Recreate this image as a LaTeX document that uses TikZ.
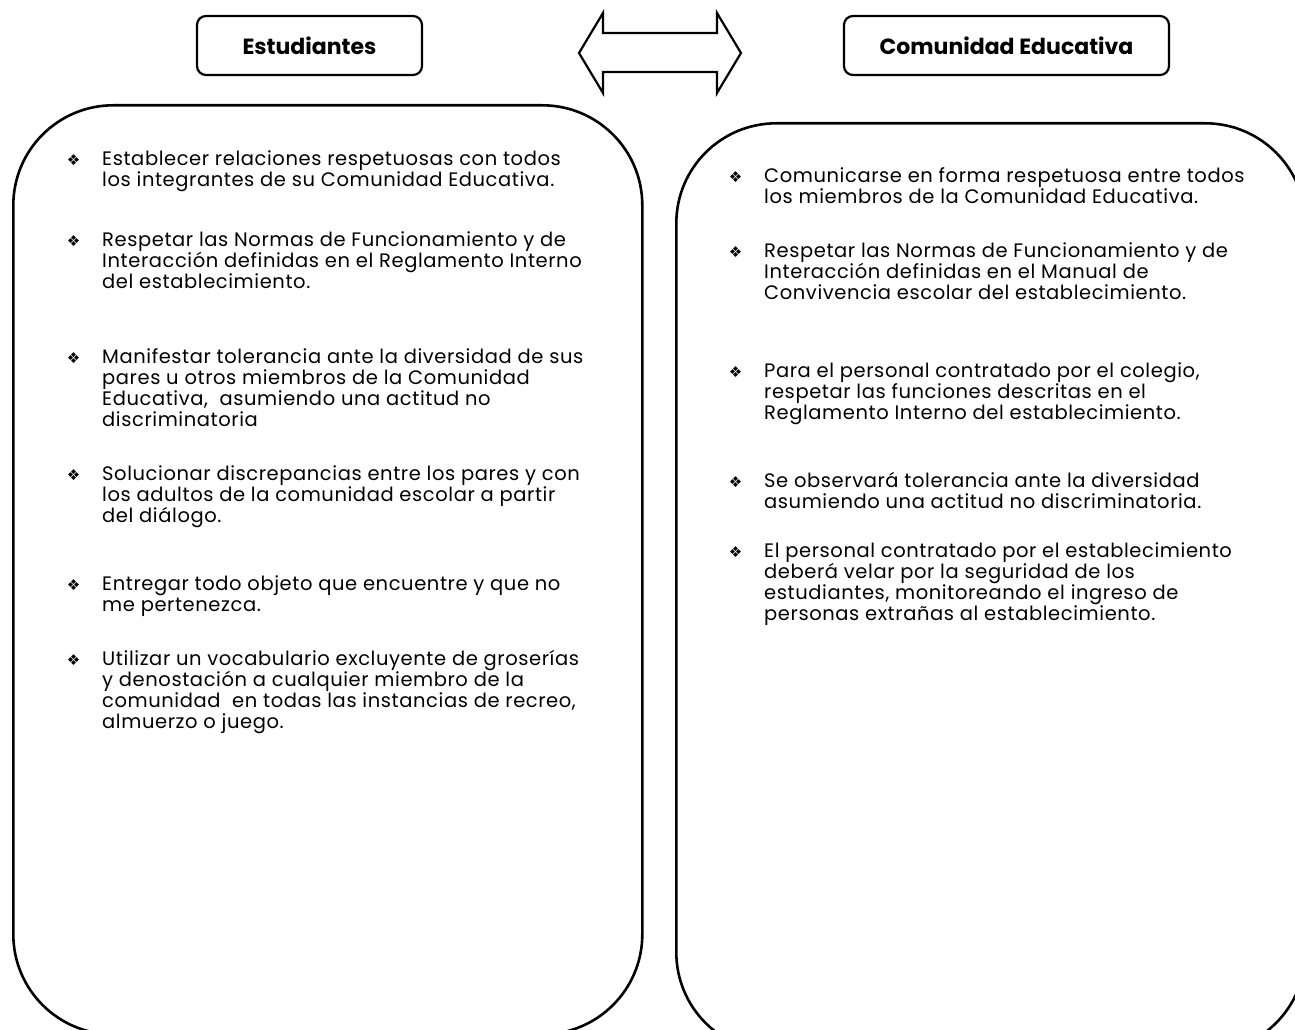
\documentclass[tikz,border=0pt]{standalone}
\usepackage{fontspec}
\setmainfont{Poppins}
\newfontfamily\symfont{DejaVu Sans}
\usetikzlibrary{positioning}

\newcommand{\bul}{\llap{{\symfont\fontsize{15}{15}\selectfont ❖}\hspace{22pt}}}

\begin{document}
\begin{tikzpicture}[x=1pt, y=-1pt,
    headbox/.style={draw, line width=2.2pt, rounded corners=9pt, minimum height=59pt, font=\fontsize{22}{24}\selectfont\bfseries},
    panel/.style={draw, line width=2.6pt, rounded corners=100pt, anchor=north west, minimum width=629pt, minimum height=929pt},
    item/.style={anchor=base west, align=left, inner sep=0pt, font=\fontsize{19.5}{21}\selectfont\addfontfeature{LetterSpace=3}}]
    \clip (0,0) rectangle (1295,1030);

    % Headers
    \node[headbox, minimum width=225pt] (est) at (309.5,45.5) {Estudiantes};
    \node[headbox, minimum width=325pt] (com) at (1006.5,45.5) {Comunidad Educativa};

    % Double arrow between the headers
    \coordinate (lt) at (579,53);
    \coordinate (rt) at (741,53);
    \draw[line width=2.2pt, line join=miter] (lt) -- (603,13) -- (603,33) -- (717,33) -- (717,13) -- (rt)
        -- (717,93) -- (717,72) -- (603,72) -- (603,93) -- cycle;

    % Panels
    \node[panel] (estpanel) at (12,104) {};
    \node[panel] (companel) at (675,122) {};

    % Estudiantes items (anchored at last baseline)
    \node[item] (est1) at (102,186.5) {\bul Establecer relaciones respetuosas con todos\\ los integrantes de su Comunidad Educativa.};
    \node[item] (est2) at (102,288.5) {\bul Respetar las Normas de Funcionamiento y de\\ Interacción definidas en el Reglamento Interno\\ del establecimiento.};
    \node[item] (est3) at (102,426.5) {\bul Manifestar tolerancia ante la diversidad de sus\\ pares u otros miembros de la Comunidad\\ Educativa,~ asumiendo una actitud no\\ discriminatoria};
    \node[item] (est4) at (102,522.5) {\bul Solucionar discrepancias entre los pares y con\\ los adultos de la comunidad escolar a partir\\ del diálogo.};
    \node[item] (est5) at (102,611.5) {\bul Entregar todo objeto que encuentre y que no\\ me pertenezca.};
    \node[item] (est6) at (102,728.5) {\bul Utilizar un vocabulario excluyente de groserías\\ y denostación a cualquier miembro de la\\ comunidad~ en todas las instancias de recreo,\\ almuerzo o juego.};

    % Comunidad items
    \node[item] (com1) at (764,203.5) {\bul Comunicarse en forma respetuosa entre todos\\ los miembros de la Comunidad Educativa.};
    \node[item] (com2) at (764,299.5) {\bul Respetar las Normas de Funcionamiento y de\\ Interacción definidas en el Manual de\\ Convivencia escolar del establecimiento.};
    \node[item] (com3) at (764,419.5) {\bul Para el personal contratado por el colegio,\\ respetar las funciones descritas en el\\ Reglamento Interno del establecimiento.};
    \node[item] (com4) at (764,508.5) {\bul Se observará tolerancia ante la diversidad\\ asumiendo una actitud no discriminatoria.};
    \node[item] (com5) at (764,620.5) {\bul El personal contratado por el establecimiento\\ deberá velar por la seguridad de los\\ estudiantes, monitoreando el ingreso de\\ personas extrañas al establecimiento.};
\end{tikzpicture}
\end{document}
